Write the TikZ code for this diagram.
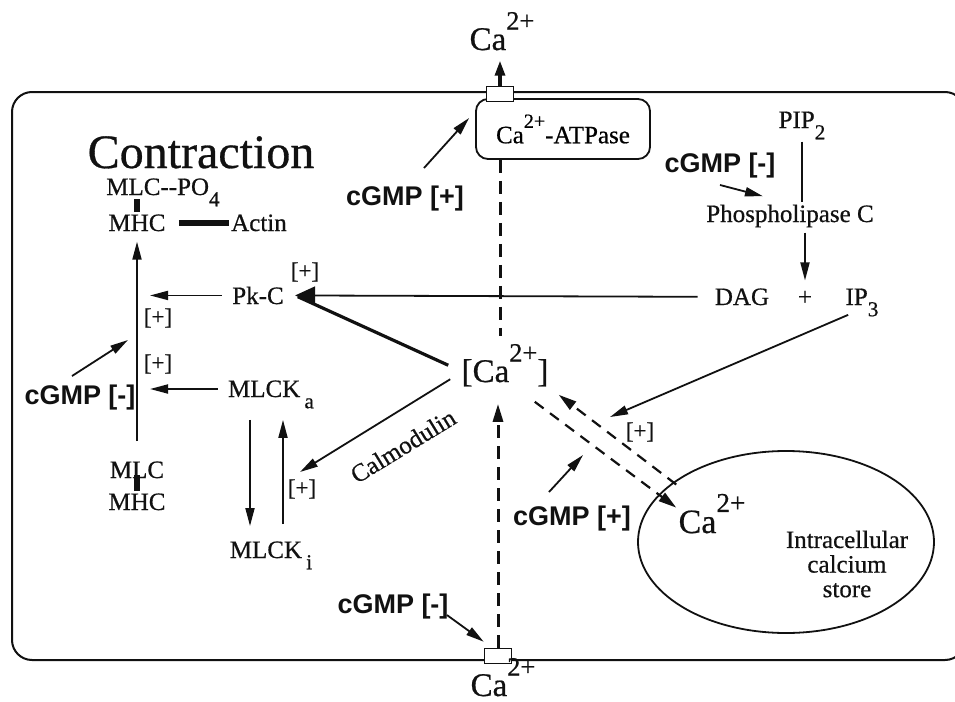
\documentclass[tikz,border=0pt]{standalone}
\usepackage{fontspec}
\setmainfont{Liberation Serif}[FakeBold=0.6]
\newfontfamily\gmpfont{Liberation Sans}
\usepackage{tikz}
\usetikzlibrary{arrows.meta,positioning,shapes.geometric,calc}
\definecolor{inkblack}{HTML}{111111}
\newcommand{\chemup}[1]{\raisebox{0.62em}{\scalebox{0.8}{#1}}}
\newcommand{\chemdn}[1]{\raisebox{-0.45em}{\scalebox{0.85}{#1}}}
\tikzset{
  lbl/.style={font=\fontsize{12.5}{14}\selectfont,inner sep=1pt,text=inkblack},
  biglbl/.style={font=\fontsize{16.5}{18}\selectfont,inner sep=1pt,text=inkblack},
  gmp/.style={font=\gmpfont\bfseries\fontsize{13.5}{15}\selectfont,inner sep=1pt,text=inkblack},
  sign/.style={font=\fontsize{11.5}{13}\selectfont,inner sep=1pt,text=inkblack},
  pump/.style={draw=inkblack,fill=white,line width=0.8pt,
               minimum width=13.5pt,minimum height=7.5pt,inner sep=0pt},
  atpbox/.style={draw=inkblack,line width=0.9pt,rounded corners=6pt,
                 minimum width=87pt,minimum height=30pt,inner sep=2pt,
                 font=\fontsize{12.5}{14}\selectfont},
  storebox/.style={ellipse,draw=inkblack,line width=0.9pt,
                   minimum width=148pt,minimum height=91pt,inner sep=0pt},
  cellwall/.style={draw=inkblack,line width=1pt,rounded corners=10pt},
  arr/.style={-{Triangle[length=9pt,width=4.5pt]},line width=0.9pt,draw=inkblack},
  bigarr/.style={-{Triangle[length=10pt,width=9pt]},line width=0.9pt,draw=inkblack},
  thickline/.style={line width=1.6pt,draw=inkblack},
  outarr/.style={-{Triangle[length=7.5pt,width=5pt]},line width=1.6pt,draw=inkblack},
  dashline/.style={dash pattern=on 6.5pt off 4pt,line width=1.5pt,draw=inkblack},
  dasharr/.style={dashline,-{Triangle[length=9pt,width=5pt]}},
  diagdash/.style={dash pattern=on 5.5pt off 4pt,line width=1.1pt,draw=inkblack,
                   -{Triangle[length=9pt,width=5pt]}},
  bond/.style={line width=2.6pt,draw=inkblack}
}
\begin{document}
\begin{tikzpicture}[x=0.5pt,y=-0.5pt]
  \useasboundingbox (0,0) rectangle (955,702);
  \draw[cellwall] (12,92) rectangle (965,660);
  \node[storebox] (store) at (786,542) {};
  \node[atpbox] (atp) at (563,129) {Ca\chemup{2+}-ATPase};
  \node[pump] (pumptop) at (500,94) {};
  \node[pump] (pumpbot) at (498,656) {};
  \node[biglbl,anchor=base] (caout) at (502,50) {Ca\chemup{2+}};
  \node[biglbl,anchor=base] (cabot) at (503,696) {Ca\chemup{2+}};
  \node[lbl,anchor=base,font=\fontsize{24}{26}\selectfont] (contr) at (201,168) {Contraction};
  \node[lbl,anchor=base] (mlcpo) at (163,195) {MLC-{}-PO\chemdn{4}};
  \node[lbl,anchor=base] (mhc) at (137,231) {MHC};
  \node[lbl,anchor=base] (actin) at (259,231) {Actin};
  \node[lbl,anchor=base] (mlclow) at (137,478) {MLC};
  \node[lbl,anchor=base] (mhclow) at (137,510) {MHC};
  \node[lbl,anchor=base] (pkc) at (258,304) {Pk-C};
  \node[lbl,anchor=base] (mlcka) at (271,397) {MLCK\,\chemdn{a}};
  \node[lbl,anchor=base] (mlcki) at (271,558) {MLCK\,\chemdn{i}};
  \node[biglbl,anchor=base] (cai) at (505,382) {[Ca\chemup{2+}]};
  \node[lbl,anchor=base] (dag) at (742,305) {DAG};
  \node[lbl,anchor=base] (plus) at (805,305) {+};
  \node[lbl,anchor=base] (ip3) at (862,305) {IP\chemdn{3}};
  \node[lbl,anchor=base] (pip2) at (802,128) {PIP\chemdn{2}};
  \node[lbl,anchor=base] (plc) at (790,222) {Phospholipase C};
  \node[biglbl,anchor=base,font=\fontsize{17}{19}\selectfont] (storeca) at (712,533) {Ca\chemup{2+}};
  \node[lbl,align=center,font=\fontsize{12.5}{12.3}\selectfont] (storetxt) at (847,564) {Intracellular\\calcium\\store};
  \node[lbl,rotate=31.5] (calm) at (403,446) {Calmodulin};
  \node[sign] (pluspkc) at (305,272) {[+]};
  \node[sign] (plusa) at (158,318) {[+]};
  \node[sign] (plusb) at (158,364) {[+]};
  \node[sign] (plusi) at (302,489) {[+]};
  \node[sign] (plusst) at (640,432) {[+]};
  \node[gmp] (g1) at (405,199) {cGMP [+]};
  \node[gmp] (g2) at (720,166) {cGMP [-]};
  \node[gmp] (g3) at (80,398) {cGMP [-]};
  \node[gmp] (g4) at (572,519) {cGMP [+]};
  \node[gmp] (g5) at (393,607) {cGMP [-]};
  \coordinate (pkcin) at ([xshift=4.5pt]pkc.east);
  \coordinate (ka) at ([xshift=-4pt,yshift=4pt]mlcka.base west);
  \coordinate (calin) at (300,472);
  \coordinate (ip3in) at (610,417);
  \coordinate (g4in) at (583,455);
  \coordinate (g3in) at (128,340);
  \draw[outarr,shorten >=4pt] (pumptop.north) -- (pumptop.north |- caout.south);
  \draw[arr] ([xshift=9.5pt,yshift=8pt]g1.north) -- ([xshift=-3pt,yshift=5.5pt]atp.west);
  \draw[dashline,shorten >=3pt] (atp.south -| pumptop.south) -- (cai.north -| pumptop.south);
  \draw[dasharr,shorten >=7.5pt] (pumpbot.north) -- (cai.south -| pumpbot.north);
  \draw[arr] ([xshift=-2pt,yshift=-4pt]g5.east) -- ([yshift=3pt]pumpbot.north west);
  \draw[bond] (mhc.north) -- ++(0,-13);
  \draw[bond] (mhclow.north) -- ++(0,-16);
  \draw[bond,line width=3pt,shorten <=5.5pt] (mhc.east) -- (actin.west);
  \draw[arr,shorten >=4pt] ([yshift=9pt]mlclow.north) -- (mhc.south);
  \draw[arr,shorten >=6.5pt] ([xshift=-4pt]pkc.west) -- (pkc.west -| mhc.south);
  \draw[arr,shorten >=6.5pt] (ka) -- (ka -| mhc.south);
  \draw[arr] ([xshift=-4pt,yshift=3.5pt]g3.north) -- (g3in);
  \draw[arr,shorten <=4.5pt,shorten >=6.5pt] ([xshift=-10.5pt]mlcka.south) -- ([xshift=-10.5pt]mlcki.north);
  \draw[arr,shorten <=7.5pt,shorten >=4.5pt] ([xshift=6pt]mlcki.north) -- ([xshift=6pt]mlcka.south);
  \draw[bigarr,shorten <=7.5pt] (dag.west) -- (pkcin);
  \draw[thickline,shorten >=1.5pt] ([xshift=-5.5pt]cai.west) -- (pkcin);
  \draw[arr] ([xshift=-4.5pt,yshift=-7pt]cai.west) -- (calin);
  \draw[line width=0.9pt,draw=inkblack] (pip2.south) -- (plc.north -| pip2.south);
  \draw[arr] ([yshift=-2pt]g2.south) -- ([xshift=-13.5pt,yshift=3pt]plc.north);
  \draw[arr,shorten <=1.5pt,shorten >=4pt] (plc.south -| plus.north) -- (plus.north);
  \draw[arr] ([xshift=2.5pt,yshift=2pt]ip3.south west) -- (ip3in);
  \draw[arr] ([xshift=-11.5pt,yshift=6pt]g4.north) -- (g4in);
  \draw[diagdash] ([yshift=3.5pt]storeca.north west) -- ([xshift=4pt,yshift=-3pt]cai.south east);
  \draw[diagdash] ([xshift=-8pt,yshift=-6.5pt]cai.south east) -- ([yshift=3pt]storeca.west);
\end{tikzpicture}
\end{document}
